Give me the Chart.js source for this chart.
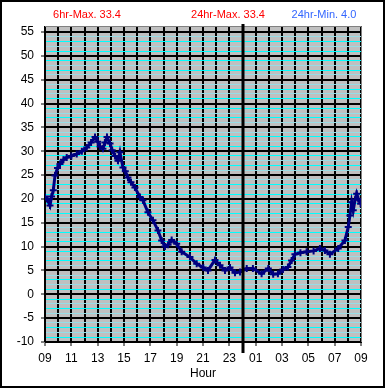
<!DOCTYPE html>
<html>
<head>
<meta charset="utf-8">
<script src="https://cdn.jsdelivr.net/npm/chart.js@4/dist/chart.umd.min.js"></script>
<style>
html,body{margin:0;padding:0;background:#fff;}
canvas{display:block;}
</style>
</head>
<body>
<canvas id="c" width="385" height="388"></canvas>
<script>
// ---- data ----
const hours = [0.00,0.15,0.38,0.50,0.63,0.76,0.95,1.14,1.40,1.65,2.00,2.41,2.80,3.17,3.50,3.80,4.00,4.18,4.40,4.55,4.71,4.94,5.10,5.32,5.54,5.69,5.92,6.10,6.30,6.53,6.83,7.21,7.44,7.82,8.20,8.58,8.86,9.11,9.35,9.62,10.00,10.38,11.01,11.52,12.02,12.38,12.91,13.29,13.67,14.05,14.43,14.81,15.32,15.79,16.45,16.96,17.33,17.69,18.07,18.45,18.73,18.98,19.40,19.87,20.40,20.88,21.26,21.64,22.27,22.78,23.03,23.16,23.29,23.41,23.55,23.67,23.79,23.97];
const temps = [20.4,20.0,18.6,20.5,21.8,24.9,26.5,27.3,28.2,28.7,29.0,29.4,30.0,30.8,31.8,33.0,32.0,31.0,30.5,31.8,33.0,31.6,30.2,29.0,28.0,29.8,26.6,25.8,24.5,23.5,22.4,20.4,19.7,17.2,15.5,13.4,11.3,10.0,10.4,11.4,10.6,8.9,7.8,6.4,5.6,5.0,7.2,6.1,5.0,5.6,4.5,4.7,5.4,5.4,4.3,5.4,4.2,4.3,5.2,5.7,7.1,8.4,8.7,8.9,9.1,9.6,9.2,8.4,9.6,11.3,14.1,16.5,19.3,17.6,19.8,21.1,20.0,19.0];
const xTickLabels = ['09','11','13','15','17','19','21','23','01','03','05','07','09'];
const yTickValues = [-10,-5,0,5,10,15,20,25,30,35,40,45,50,55];
const headerTexts = ['6hr-Max. 33.4','24hr-Max. 33.4','24hr-Min. 4.0'];
const headerColors = ['#ff0000','#ff0000','#3366ff'];
const midnightHour = 15;

const FONT = 'Liberation Sans, Arial, sans-serif';

const decor = {
  id: 'decor',
  beforeDraw(chart) {
    const {ctx, chartArea: a} = chart;
    ctx.save();
    ctx.fillStyle = '#ffffff';
    ctx.fillRect(0, 0, chart.width, chart.height);
    ctx.fillStyle = '#c0c0c0';
    ctx.fillRect(a.left, a.top, a.right - a.left, a.bottom - a.top);
    ctx.restore();
  },
  afterDraw(chart) {
    const {ctx, chartArea: a, scales} = chart;
    ctx.save();
    ctx.strokeStyle = '#808080';
    ctx.lineWidth = 1;
    ctx.beginPath();
    ctx.moveTo(a.left, a.top + 0.5);
    ctx.lineTo(a.right + 0.5, a.top + 0.5);
    ctx.lineTo(a.right + 0.5, a.bottom);
    ctx.stroke();
    const mx = Math.round(scales.x.getPixelForValue(midnightHour));
    ctx.strokeStyle = '#000';
    ctx.lineWidth = 3;
    ctx.beginPath();
    ctx.moveTo(mx, a.top - 2);
    ctx.lineTo(mx, a.bottom + 11);
    ctx.stroke();
    ctx.font = '11px ' + FONT;
    ctx.textAlign = 'center';
    ctx.textBaseline = 'middle';
    const xs = [87, 228, 324];
    headerTexts.forEach((t, i) => {
      ctx.fillStyle = headerColors[i];
      ctx.fillText(t, xs[i], 15);
    });
    ctx.strokeStyle = '#000';
    ctx.lineWidth = 2;
    ctx.strokeRect(1, 1, chart.width - 2, chart.height - 2);
    ctx.restore();
  }
};

const minorColor = v => (Math.abs(v) % 2 === 1 ? '#00ffff' : '#99dde6');

new Chart(document.getElementById('c'), {
  type: 'line',
  data: {
    datasets: [{
      data: hours.map((h, i) => ({x: h, y: temps[i]})),
      borderColor: '#000080',
      backgroundColor: '#000080',
      borderWidth: 3,
      pointStyle: 'cross',
      pointRadius: 3.5,
      pointBorderWidth: 2,
      tension: 0,
      fill: false
    }]
  },
  options: {
    responsive: false,
    animation: false,
    events: [],
    layout: {padding: {top: 26, right: 24, left: 0, bottom: 0}},
    plugins: {legend: {display: false}, tooltip: {enabled: false}},
    scales: {
      x: {
        type: 'linear',
        min: 0, max: 24,
        afterBuildTicks: s => { s.ticks = Array.from({length: 25}, (_, i) => ({value: i})); },
        afterFit: s => { s.height = 46; },
        ticks: {
          autoSkip: false, maxRotation: 0, padding: 5,
          color: '#000', font: {family: FONT, size: 12},
          callback: v => (v % 2 === 0 ? xTickLabels[v / 2] : '')
        },
        grid: {
          color: '#000', lineWidth: 2, drawTicks: true, tickLength: 4,
          tickColor: c => (c.tick && c.tick.value % 2 === 0 ? '#000' : 'rgba(0,0,0,0)'),
          tickWidth: 1
        },
        border: {display: true, color: '#000', width: 1},
        title: {display: true, text: 'Hour', color: '#000', font: {family: FONT, size: 12}, padding: {top: 0, bottom: 7}}
      },
      y: {
        type: 'linear',
        min: -10, max: 56.25,
        afterBuildTicks: s => { s.ticks = Array.from({length: 66}, (_, i) => ({value: i - 10})); },
        afterFit: s => { s.width = 45; },
        ticks: {
          autoSkip: false, padding: 7,
          color: '#000', font: {family: FONT, size: 12},
          callback: v => (yTickValues.includes(v) ? String(v) : '')
        },
        grid: {
          color: c => (c.tick && c.tick.value % 5 === 0 ? '#000' : minorColor(c.tick ? c.tick.value : 1)),
          lineWidth: c => (c.tick && c.tick.value % 5 === 0 ? 2 : 1),
          tickLength: 4,
          tickColor: c => (c.tick && c.tick.value % 5 === 0 ? '#000' : 'rgba(0,0,0,0)'),
          tickWidth: 1
        },
        border: {display: true, color: '#000', width: 1}
      }
    }
  },
  plugins: [decor]
});
</script>
</body>
</html>
